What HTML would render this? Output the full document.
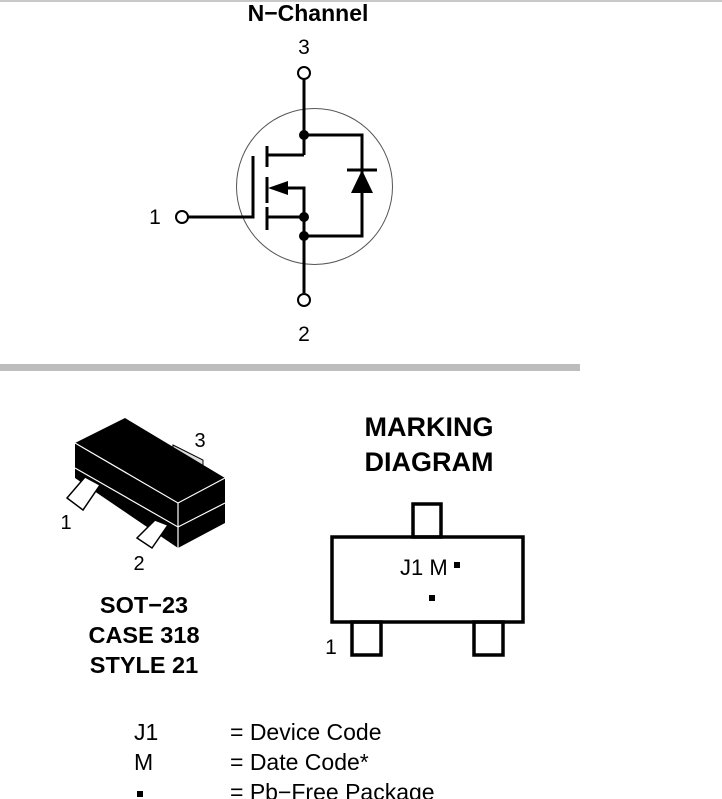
<!DOCTYPE html>
<html><head><style>
html,body{margin:0;padding:0;background:#fff;}
svg{display:block;font-family:"Liberation Sans",Arial,sans-serif;}
</style></head><body>
<svg width="722" height="799" viewBox="0 0 722 799" xmlns="http://www.w3.org/2000/svg">
<rect x="0" y="0" width="722" height="2" fill="#c8c8c8"/>
<rect x="0" y="364" width="580" height="7" fill="#bdbdbd"/>
<text x="308" y="21" font-size="23" font-weight="bold" text-anchor="middle">N−Channel</text>
<text x="304" y="54" font-size="21" text-anchor="middle">3</text>
<text x="304" y="341" font-size="21" text-anchor="middle">2</text>
<text x="155" y="224" font-size="21" text-anchor="middle">1</text>
<circle cx="314.5" cy="186.5" r="78" fill="none" stroke="#555" stroke-width="1"/>
<g stroke="#000" stroke-width="3" fill="none">
<line x1="304" y1="79" x2="304" y2="155"/>
<polyline points="304,135 362,135 362,236 304,236"/>
<polyline points="304,155 267,155"/>
<line x1="267" y1="146" x2="267" y2="167"/>
<line x1="267" y1="177" x2="267" y2="203"/>
<line x1="267" y1="207" x2="267" y2="230"/>
<polyline points="253,156 253,217 188,217"/>
<polyline points="280,188 304,188 304,293"/>
<line x1="267" y1="217" x2="304" y2="217"/>
<line x1="347" y1="170" x2="377" y2="170"/>
</g>
<polygon points="268,188 288,181 288,195" fill="#000"/>
<polygon points="362,170 351,193 373,193" fill="#000"/>
<g fill="#000"><circle cx="304" cy="135" r="5"/><circle cx="304" cy="217" r="5"/><circle cx="304" cy="236" r="5"/></g>
<g fill="#fff" stroke="#000" stroke-width="2"><circle cx="304" cy="73" r="6"/><circle cx="304" cy="300" r="6"/><circle cx="182" cy="217" r="6"/></g>
<!-- package -->
<polygon points="173,445 203,460 203,470 173,455" fill="#ddd" stroke="#000" stroke-width="1"/>
<polygon points="75,443 125,418 225,478 225,523 178,548 75,478" fill="#000"/>
<g stroke="#fff" stroke-width="1.2" fill="none">
<polyline points="75,443 178,503 225,478"/>
<line x1="178" y1="503" x2="178" y2="548"/>
<polyline points="75,468 178,527 225,503"/>
</g>
<polygon points="67,498 83,510 100,485 85,477" fill="#fff" stroke="#000" stroke-width="1.5"/>
<polygon points="137,538 152,548 168,525 155,520" fill="#fff" stroke="#000" stroke-width="1.5"/>
<text x="200" y="447" font-size="20" text-anchor="middle">3</text>
<text x="66" y="529" font-size="20" text-anchor="middle">1</text>
<text x="139" y="570" font-size="20" text-anchor="middle">2</text>
<g font-size="23.5" font-weight="bold" text-anchor="middle">
<text x="144" y="613">SOT−23</text>
<text x="144" y="643">CASE 318</text>
<text x="144" y="673">STYLE 21</text>
</g>
<g font-size="27" font-weight="bold" text-anchor="middle">
<text x="429" y="436">MARKING</text>
<text x="429" y="471">DIAGRAM</text>
</g>
<g fill="none" stroke="#000" stroke-width="3.5">
<rect x="413" y="504" width="28" height="33"/>
<rect x="332" y="537" width="191" height="85"/>
<rect x="352" y="622" width="29" height="33"/>
<rect x="474" y="622" width="29" height="33"/>
</g>
<text x="400" y="575" font-size="22">J1 M</text>
<rect x="454" y="562" width="6" height="6" fill="#000"/>
<rect x="429" y="595" width="6" height="6" fill="#000"/>
<text x="331" y="654" font-size="21" text-anchor="middle">1</text>
<g font-size="23">
<text x="134" y="740">J1</text><text x="230" y="740">= Device Code</text>
<text x="134" y="770">M</text><text x="230" y="770">= Date Code*</text>
<rect x="137" y="791" width="6" height="6" fill="#000"/><text x="230" y="800">= Pb−Free Package</text>
</g>
</svg>
</body></html>
